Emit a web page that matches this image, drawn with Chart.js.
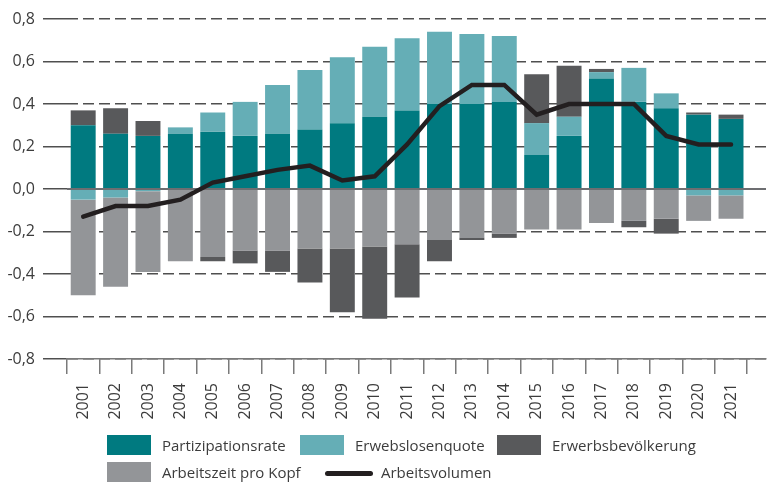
<!DOCTYPE html>
<html>
<head>
<meta charset="utf-8">
<script src="https://cdn.jsdelivr.net/npm/chart.js@4/dist/chart.umd.min.js"></script>
<style>
  html, body { margin: 0; padding: 0; background: #ffffff; }
  #wrap { position: relative; width: 773px; height: 484px; }
  #legend { position: absolute; left: 0; top: 0; width: 773px; height: 484px; pointer-events: none;
            font-family: "Open Sans", sans-serif; font-size: 15px; color: #3c3c3c; }
  .sw { position: absolute; }
  .lb { position: absolute; white-space: nowrap; }
</style>
</head>
<body>
<div id="wrap">
  <canvas id="c" width="773" height="484"></canvas>
  <div id="legend"></div>
</div>
<script>
// Years on the x axis
const years = [2001, 2002, 2003, 2004, 2005, 2006, 2007, 2008, 2009, 2010, 2011,
               2012, 2013, 2014, 2015, 2016, 2017, 2018, 2019, 2020, 2021];
const yearLabels = years.map(String);

// Contributions (percentage points)
const partizipationsrate = [0.30, 0.26, 0.25, 0.26, 0.27, 0.25, 0.26, 0.28, 0.31, 0.34, 0.37,
                            0.40, 0.40, 0.41, 0.16, 0.25, 0.52, 0.41, 0.38, 0.35, 0.33];
const erwerbslosenquote = [-0.05, -0.04, -0.01, 0.03, 0.09, 0.16, 0.23, 0.28, 0.31, 0.33, 0.34,
                           0.34, 0.33, 0.31, 0.15, 0.09, 0.03, 0.16, 0.07, -0.03, -0.03];
const erwerbsbevoelkerung = [0.07, 0.12, 0.07, 0.00, -0.02, -0.06, -0.10, -0.16, -0.30, -0.34, -0.25,
                             -0.10, -0.01, -0.02, 0.23, 0.24, 0.015, -0.03, -0.07, 0.01, 0.02];
const arbeitszeitProKopf = [-0.45, -0.42, -0.38, -0.34, -0.32, -0.29, -0.29, -0.28, -0.28, -0.27, -0.26,
                            -0.24, -0.23, -0.21, -0.19, -0.19, -0.16, -0.15, -0.14, -0.12, -0.11];
const arbeitsvolumen = [-0.13, -0.08, -0.08, -0.05, 0.03, 0.06, 0.09, 0.11, 0.04, 0.06, 0.21,
                        0.39, 0.49, 0.49, 0.35, 0.40, 0.40, 0.40, 0.25, 0.21, 0.21];

// Value axis ticks
const yTicks = [-0.8, -0.6, -0.4, -0.2, 0.0, 0.2, 0.4, 0.6, 0.8];
const yTickLabels = ['-0,8', '-0,6', '-0,4', '-0,2', '0,0', '0,2', '0,4', '0,6', '0,8'];

const colors = {
  partizipationsrate: '#007a80',
  erwerbslosenquote: '#65aeb6',
  erwerbsbevoelkerung: '#58595b',
  arbeitszeit: '#939598',
  volumen: '#231f20'
};

const textColor = '#3c3c3c';
const gridColor = '#4f4f4f';
const axisColor = '#7a7a7a';
const fontFamily = '"Open Sans", sans-serif';

// Category boundaries used for the tick marks under the bars
const boundaries = [years[0] - 0.5].concat(years.map(y => y + 0.5));

// Solid zero line drawn over the bars, below the volume line
const zeroLine = {
  id: 'zeroLine',
  beforeDatasetDraw(chart, args) {
    if (chart.data.datasets[args.index].type !== 'line') return;
    const y = chart.scales.y.getPixelForValue(0);
    const { left, right } = chart.chartArea;
    const c = chart.ctx;
    c.save();
    c.strokeStyle = '#6d6e71';
    c.lineWidth = 1.8;
    c.beginPath();
    c.moveTo(left, y);
    c.lineTo(right, y);
    c.stroke();
    c.restore();
  }
};

const chart = new Chart(document.getElementById('c'), {
  data: {
    labels: years,
    datasets: [
      {
        type: 'line', label: 'Arbeitsvolumen', data: arbeitsvolumen,
        borderColor: colors.volumen, borderWidth: 4.5, pointRadius: 0, tension: 0,
        borderCapStyle: 'round', borderJoinStyle: 'miter', fill: false,
        stack: 'volumen', order: 0
      },
      { type: 'bar', label: 'Partizipationsrate', data: partizipationsrate,
        backgroundColor: colors.partizipationsrate, stack: 'komponenten', order: 1 },
      { type: 'bar', label: 'Erwebslosenquote', data: erwerbslosenquote,
        backgroundColor: colors.erwerbslosenquote, stack: 'komponenten', order: 1 },
      { type: 'bar', label: 'Arbeitszeit pro Kopf', data: arbeitszeitProKopf,
        backgroundColor: colors.arbeitszeit, stack: 'komponenten', order: 1 },
      { type: 'bar', label: 'Erwerbsbevölkerung', data: erwerbsbevoelkerung,
        backgroundColor: colors.erwerbsbevoelkerung, stack: 'komponenten', order: 1 }
    ]
  },
  options: {
    responsive: false,
    animation: false,
    layout: { padding: { left: 0, right: 7, top: 19, bottom: 64 } },
    datasets: { bar: { barPercentage: 0.77, categoryPercentage: 1, borderWidth: 0 } },
    plugins: { legend: { display: false }, tooltip: { enabled: false } },
    scales: {
      x: {
        type: 'linear', position: 'bottom', weight: 0, offset: false,
        min: 2000.5, max: 2022.08, stacked: true,
        afterBuildTicks(axis) { axis.ticks = boundaries.map(v => ({ value: v })); },
        afterFit(axis) { axis.height = 15; },
        ticks: { display: false, autoSkip: false },
        grid: { offset: false, drawOnChartArea: false, drawTicks: true, tickLength: 15,
                color: axisColor, tickColor: axisColor, lineWidth: 1.5 },
        border: { display: true, color: axisColor, width: 1.5 }
      },
      xl: {
        type: 'linear', position: 'bottom', weight: 1, offset: false,
        min: 2000.5, max: 2022.08,
        afterBuildTicks(axis) { axis.ticks = years.map(v => ({ value: v })); },
        afterFit(axis) { axis.height = 46; },
        ticks: {
          autoSkip: false, minRotation: 90, maxRotation: 90, padding: 9,
          color: textColor, font: { family: fontFamily, size: 16 },
          callback: (v, i) => yearLabels[i]
        },
        grid: { display: false, drawTicks: false, offset: false },
        border: { display: false }
      },
      y: {
        type: 'linear', min: -0.8, max: 0.8, stacked: true,
        afterBuildTicks(axis) { axis.ticks = yTicks.map(v => ({ value: v })); },
        afterFit(axis) { axis.width = 67; },
        ticks: {
          padding: 8, color: textColor, font: { family: fontFamily, size: 16 },
          callback: (v, i) => yTickLabels[i]
        },
        grid: { color: gridColor, lineWidth: 1.5, drawTicks: true, tickLength: 24,
                tickColor: gridColor, tickBorderDash: [], borderDash: [11, 5] },
        border: { display: false, dash: [11, 5] }
      }
    }
  },
  plugins: [zeroLine]
});

// Legend
const legendItems = [
  { label: 'Partizipationsrate', color: colors.partizipationsrate, kind: 'box', x: 107, y: 435 },
  { label: 'Erwebslosenquote', color: colors.erwerbslosenquote, kind: 'box', x: 300, y: 435 },
  { label: 'Erwerbsbevölkerung', color: colors.erwerbsbevoelkerung, kind: 'box', x: 497, y: 435 },
  { label: 'Arbeitszeit pro Kopf', color: colors.arbeitszeit, kind: 'box', x: 107, y: 462 },
  { label: 'Arbeitsvolumen', color: colors.volumen, kind: 'line', x: 325, y: 462 }
];
const legend = document.getElementById('legend');
legendItems.forEach(item => {
  const sw = document.createElement('div');
  sw.className = 'sw';
  let textLeft;
  if (item.kind === 'box') {
    Object.assign(sw.style, { left: item.x + 'px', top: item.y + 'px', width: '44px', height: '20px',
                              background: item.color });
    textLeft = item.x + 55;
  } else {
    Object.assign(sw.style, { left: item.x + 'px', top: (item.y + 9) + 'px', width: '48px', height: '4.5px',
                              background: item.color, borderRadius: '3px' });
    textLeft = item.x + 56;
  }
  legend.appendChild(sw);
  const lb = document.createElement('div');
  lb.className = 'lb';
  lb.textContent = item.label;
  Object.assign(lb.style, { left: textLeft + 'px', top: item.y + 'px', lineHeight: '20px' });
  legend.appendChild(lb);
});
</script>
</body>
</html>
